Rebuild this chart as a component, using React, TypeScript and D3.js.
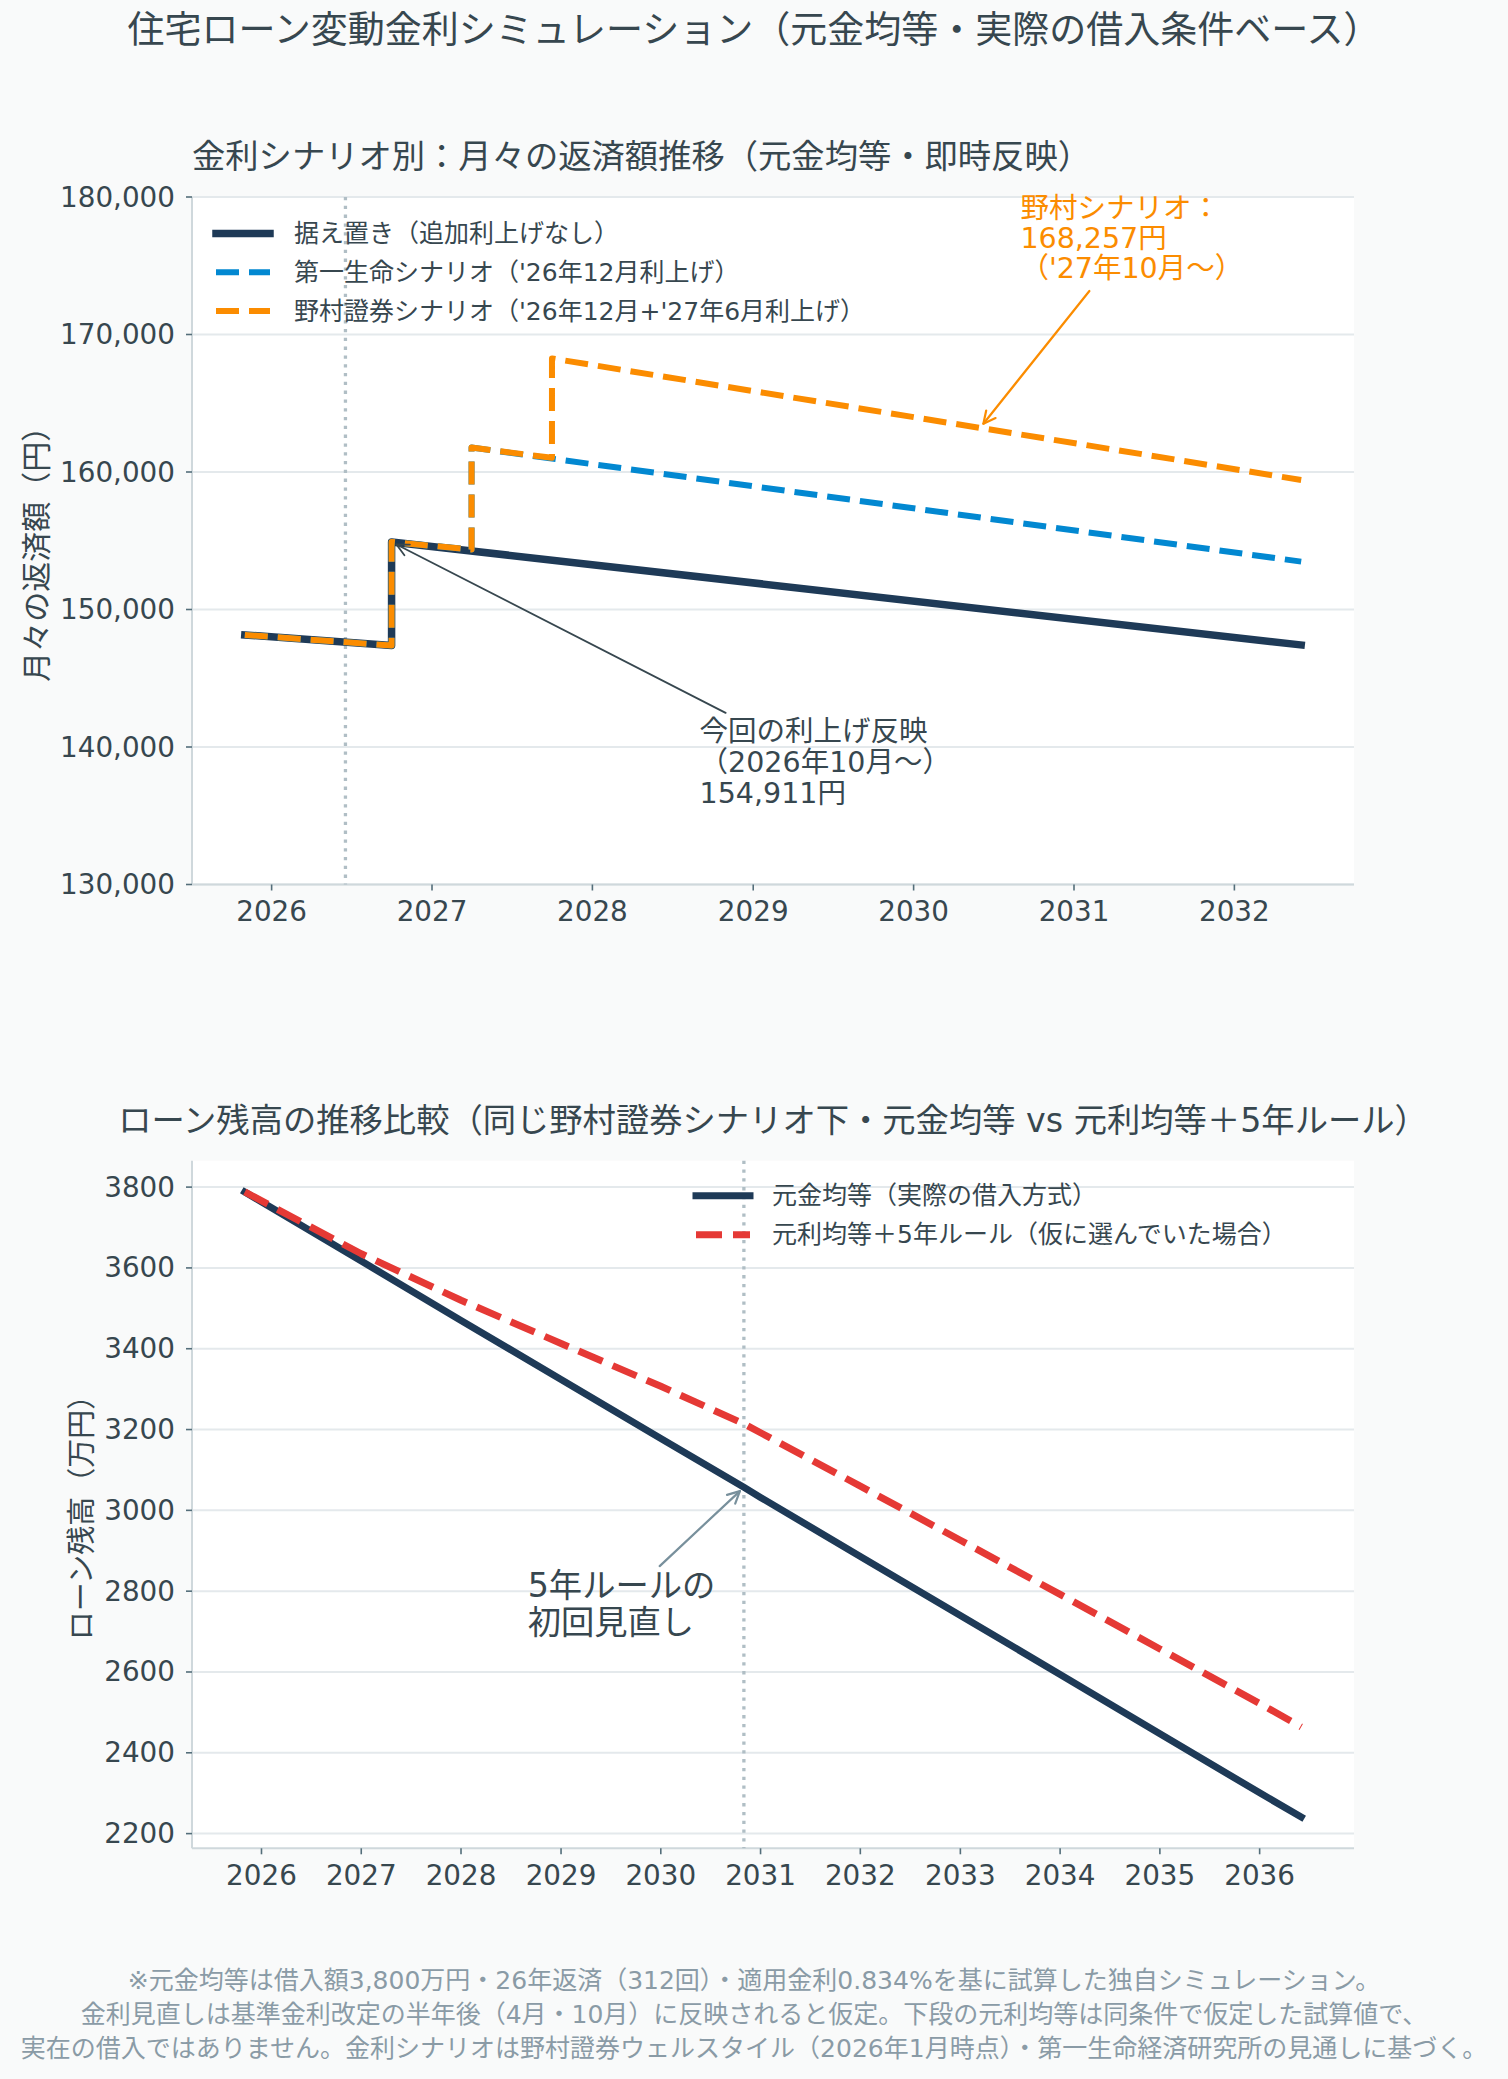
import { useEffect } from 'react'
import * as d3 from 'd3'

const W = 1508
const H = 2079
const FONT = "'DejaVu Sans', 'Noto Sans CJK JP', sans-serif"

// 上段：月々の返済額（円）— 折れ点（ジャンプは同じ月を二度）
const flatDates = ['2025-11', '2026-10', '2026-10', '2032-06']
const flatValues = [148150, 147380, 154911, 147420]
const daiichiDates = ['2025-11', '2026-10', '2026-10', '2027-04', '2027-04', '2032-06']
const daiichiValues = [148150, 147380, 154911, 154360, 161780, 153480]
const nomuraDates = ['2025-11', '2026-10', '2026-10', '2027-04', '2027-04', '2027-10', '2027-10', '2032-06']
const nomuraValues = [148150, 147380, 154911, 154360, 161780, 161030, 168257, 159420]
const payTicks = [130000, 140000, 150000, 160000, 170000, 180000]
const payYears = [2026, 2027, 2028, 2029, 2030, 2031, 2032]

// 下段：ローン残高（万円）
const balanceDates = ['2025-11', '2027-01', '2028-01', '2029-01', '2030-01', '2030-11', '2031-01',
  '2032-01', '2033-01', '2034-01', '2035-01', '2036-01', '2036-06']
const principalEqual = [3788, 3617, 3470, 3324, 3178, 3057, 3032, 2886, 2740, 2594, 2447, 2301, 2241]
const annuity5yr = [3788, 3635, 3520, 3413, 3307, 3214, 3192, 3060, 2926, 2792, 2657, 2522, 2464]
const balanceTicks = [2200, 2400, 2600, 2800, 3000, 3200, 3400, 3600, 3800]
const balanceYears = [2026, 2027, 2028, 2029, 2030, 2031, 2032, 2033, 2034, 2035, 2036]

const footnotes = [
  '※元金均等は借入額3,800万円・26年返済（312回）・適用金利0.834%を基に試算した独自シミュレーション。',
  '金利見直しは基準金利改定の半年後（4月・10月）に反映されると仮定。下段の元利均等は同条件で仮定した試算値で、',
  '実在の借入ではありません。金利シナリオは野村證券ウェルスタイル（2026年1月時点）・第一生命経済研究所の見通しに基づく。',
]

const C = {
  bg: '#f9fafa',
  text: '#37474f',
  grid: '#e4e9ec',
  spine: '#cfd8dc',
  navy: '#1e3a57',
  blue: '#0288d1',
  orange: '#fb8c00',
  red: '#e53935',
  vline: '#b0bec5',
  note: '#78909c',
  foot: '#8a9ba6',
}

const parse = d3.timeParse('%Y-%m')
const toPts = (ds: string[], vs: number[]) => ds.map((d, i) => [parse(d) as Date, vs[i]] as [Date, number])

// matplotlib 風の 5% マージン
const padDates = (dates: Date[]) => {
  const [a, b] = d3.extent(dates) as [Date, Date]
  const span = +b - +a
  return [new Date(+a - 0.05 * span), new Date(+b + 0.05 * span)]
}

function Arrow({ x1, y1, x2, y2, color, width }: any) {
  // x2,y2 = 注記対象の点。matplotlib の shrinkB 相当だけ手前で止める
  const dx = x2 - x1, dy = y2 - y1
  const len = Math.hypot(dx, dy)
  const ux = dx / len, uy = dy / len
  const tx = x2 - ux * 5.5, ty = y2 - uy * 5.5
  const hl = 12, hw = 6
  const p1 = [tx - ux * hl - uy * hw, ty - uy * hl + ux * hw]
  const p2 = [tx - ux * hl + uy * hw, ty - uy * hl - ux * hw]
  return (
    <g stroke={color} strokeWidth={width} fill="none" strokeLinecap="round" strokeLinejoin="round">
      <line x1={x1} y1={y1} x2={tx} y2={ty} />
      <polyline points={`${p1[0]},${p1[1]} ${tx},${ty} ${p2[0]},${p2[1]}`} />
    </g>
  )
}

function Axes({ box, x, y, yTicks, years, yFmt, ylabel, ylabelX, ylabelSize }: any) {
  return (
    <g>
      <rect x={box.x0} y={box.y0} width={box.x1 - box.x0} height={box.y1 - box.y0} fill="#ffffff" />
      {yTicks.map((t: number) => (
        <line key={t} x1={box.x0} x2={box.x1} y1={y(t)} y2={y(t)} stroke={C.grid} strokeWidth={2} />
      ))}
      <line x1={box.x0} x2={box.x0} y1={box.y0} y2={box.y1} stroke={C.spine} strokeWidth={2} />
      <line x1={box.x0} x2={box.x1} y1={box.y1} y2={box.y1} stroke={C.spine} strokeWidth={2} />
      {yTicks.map((t: number) => (
        <g key={t}>
          <line x1={box.x0 - 6} x2={box.x0} y1={y(t)} y2={y(t)} stroke="#546e7a" strokeWidth={1.6} />
          <text x={box.x0 - 17} y={y(t)} textAnchor="end" dominantBaseline="central" fontSize={27.8} fill={C.text}>
            {yFmt(t)}
          </text>
        </g>
      ))}
      {years.map((yr: number) => {
        const px = x(new Date(yr, 0, 1))
        return (
          <g key={yr}>
            <line x1={px} x2={px} y1={box.y1} y2={box.y1 + 6} stroke="#546e7a" strokeWidth={1.6} />
            <text x={px} y={box.y1 + 27} textAnchor="middle" dominantBaseline="central" fontSize={27.8} fill={C.text}>
              {yr}
            </text>
          </g>
        )
      })}
      <text
        transform={`translate(${ylabelX},${(box.y0 + box.y1) / 2 + 6}) rotate(-90)`}
        textAnchor="middle"
        dominantBaseline="central"
        fontSize={ylabelSize}
        fill={C.text}
      >
        {ylabel}
      </text>
    </g>
  )
}

function Note({ px, py, tx, ty, lines, color, textColor, size, lh, off, aw }: any) {
  return (
    <g>
      <Arrow x1={tx + off[0]} y1={ty + off[1]} x2={px} y2={py} color={color} width={aw} />
      {lines.map((l: string, i: number) => (
        <text key={i} x={tx} y={ty + i * lh} dominantBaseline="central" fontSize={size} fill={textColor}>
          {l}
        </text>
      ))}
    </g>
  )
}

export default function App() {
  useEffect(() => {
    document.body.style.margin = '0'
  }, [])

  // ---------- 上段 ----------
  const topBox = { x0: 192, x1: 1354, y0: 197, y1: 884.5 }
  const flat = toPts(flatDates, flatValues)
  const daiichi = toPts(daiichiDates, daiichiValues)
  const nomura = toPts(nomuraDates, nomuraValues)
  const xTop = d3
    .scaleTime()
    .domain(padDates([...flat, ...daiichi, ...nomura].map(d => d[0])))
    .range([topBox.x0, topBox.x1])
  const yTop = d3.scaleLinear().domain([130000, 180000]).range([topBox.y1, topBox.y0])
  const lineTop = d3
    .line<[Date, number]>()
    .x(d => xTop(d[0]))
    .y(d => yTop(d[1]))

  // ---------- 下段 ----------
  const botBox = { x0: 192, x1: 1354, y0: 1160.7, y1: 1848.3 }
  const pe = toPts(balanceDates, principalEqual)
  const an = toPts(balanceDates, annuity5yr)
  const xBot = d3.scaleTime().domain(padDates(pe.map(d => d[0]))).range([botBox.x0, botBox.x1])
  const [bMin, bMax] = d3.extent([...principalEqual, ...annuity5yr]) as [number, number]
  const bPad = (bMax - bMin) * 0.05
  const yBot = d3.scaleLinear().domain([bMin - bPad, bMax + bPad]).range([botBox.y1, botBox.y0])
  const lineBot = d3
    .line<[Date, number]>()
    .x(d => xBot(d[0]))
    .y(d => yBot(d[1]))

  const topVline = xTop(new Date(2026, 5, 18))
  const botVline = xBot(parse('2030-11') as Date)

  const legendTop = [
    { label: '据え置き（追加利上げなし）', color: C.navy, w: 7.5, dash: null },
    { label: "第一生命シナリオ（'26年12月利上げ）", color: C.blue, w: 6, dash: '23 10' },
    { label: "野村證券シナリオ（'26年12月+'27年6月利上げ）", color: C.orange, w: 6, dash: '23 10' },
  ]
  const legendBot = [
    { label: '元金均等（実際の借入方式）', color: C.navy, w: 7, dash: null },
    { label: '元利均等＋5年ルール（仮に選んでいた場合）', color: C.red, w: 7, dash: '26 11' },
  ]

  const nomuraNote = { d: parse('2030-06') as Date, v: 163200 }
  const nomuraText = { d: parse('2030-09') as Date, v: 179200 }
  const hikeNote = { d: parse('2026-10') as Date, v: 154911 }
  const hikeText = { d: parse('2028-09') as Date, v: 141100 }
  const ruleNote = { d: parse('2030-11') as Date, v: 3057 }
  const ruleText = { d: parse('2028-09') as Date, v: 2815 }

  return (
    <svg
      width={W}
      height={H}
      style={{ display: 'block', position: 'absolute', left: 0, top: 0, background: C.bg }}
      fontFamily={FONT}
    >
      <rect width={W} height={H} fill={C.bg} />
      <text x={754} y={30} textAnchor="middle" dominantBaseline="central" fontSize={37} fill={C.text}>
        住宅ローン変動金利シミュレーション（元金均等・実際の借入条件ベース）
      </text>

      {/* 上段 */}
      <text x={topBox.x0} y={156} dominantBaseline="central" fontSize={33.3} fill={C.text}>
        金利シナリオ別：月々の返済額推移（元金均等・即時反映）
      </text>
      <Axes
        box={topBox}
        x={xTop}
        y={yTop}
        yTicks={payTicks}
        years={payYears}
        yFmt={d3.format(',')}
        ylabel="月々の返済額（円）"
        ylabelX={36}
        ylabelSize={30}
      />
      <line x1={topVline} x2={topVline} y1={topBox.y0} y2={topBox.y1} stroke={C.vline} strokeWidth={3.3} strokeDasharray="3.3 5.5" />
      <path d={lineTop(flat) || ''} fill="none" stroke={C.navy} strokeWidth={7.5} strokeLinejoin="round" strokeLinecap="square" />
      <path d={lineTop(daiichi) || ''} fill="none" stroke={C.blue} strokeWidth={6} strokeDasharray="23 10" strokeLinejoin="round" />
      <path d={lineTop(nomura) || ''} fill="none" stroke={C.orange} strokeWidth={6} strokeDasharray="23 10" strokeLinejoin="round" />

      {legendTop.map((l, i) => {
        const ly = topBox.y0 + 36.5 + i * 38.8
        return (
          <g key={l.label}>
            <line x1={216} x2={270} y1={ly} y2={ly} stroke={l.color} strokeWidth={l.w}
              strokeDasharray={l.dash || undefined} strokeLinecap={l.dash ? 'butt' : 'square'} />
            <text x={294} y={ly} dominantBaseline="central" fontSize={25} fill={C.text}>{l.label}</text>
          </g>
        )
      })}

      <Note
        px={xTop(hikeNote.d)} py={yTop(hikeNote.v)}
        tx={xTop(hikeText.d)} ty={yTop(hikeText.v)}
        lines={['今回の利上げ反映', '（2026年10月〜）', '154,911円']}
        color="#37474f" textColor={C.text} size={28.5} lh={30.8} off={[26, -19]} aw={1.8}
      />
      <Note
        px={xTop(nomuraNote.d)} py={yTop(nomuraNote.v)}
        tx={xTop(nomuraText.d)} ty={yTop(nomuraText.v)}
        lines={['野村シナリオ：', '168,257円', "（'27年10月〜）"]}
        color={C.orange} textColor={C.orange} size={28.5} lh={30} off={[69, 83]} aw={2.2}
      />

      {/* 下段 */}
      <text x={(botBox.x0 + botBox.x1) / 2} y={1120} textAnchor="middle" dominantBaseline="central" fontSize={33.3} fill={C.text}>
        ローン残高の推移比較（同じ野村證券シナリオ下・元金均等 vs 元利均等＋5年ルール）
      </text>
      <Axes
        box={botBox}
        x={xBot}
        y={yBot}
        yTicks={balanceTicks}
        years={balanceYears}
        yFmt={(v: number) => String(v)}
        ylabel="ローン残高（万円）"
        ylabelX={82}
        ylabelSize={29}
      />
      <line x1={botVline} x2={botVline} y1={botBox.y0} y2={botBox.y1} stroke={C.vline} strokeWidth={3.3} strokeDasharray="3.3 5.5" />
      <path d={lineBot(pe) || ''} fill="none" stroke={C.navy} strokeWidth={7} strokeLinejoin="round" strokeLinecap="square" />
      <path d={lineBot(an) || ''} fill="none" stroke={C.red} strokeWidth={7} strokeDasharray="26 11" strokeLinejoin="round" />

      {legendBot.map((l, i) => {
        const ly = botBox.y0 + 35 + i * 39
        return (
          <g key={l.label}>
            <line x1={696} x2={750} y1={ly} y2={ly} stroke={l.color} strokeWidth={l.w}
              strokeDasharray={l.dash || undefined} strokeLinecap={l.dash ? 'butt' : 'square'} />
            <text x={772} y={ly} dominantBaseline="central" fontSize={25} fill={C.text}>{l.label}</text>
          </g>
        )
      })}

      <Note
        px={xBot(ruleNote.d)} py={yBot(ruleNote.v)}
        tx={xBot(ruleText.d)} ty={yBot(ruleText.v)}
        lines={['5年ルールの', '初回見直し']}
        color={C.note} textColor={C.text} size={33.3} lh={37} off={[132, -19]} aw={2.2}
      />

      {footnotes.map((f, i) => (
        <text key={i} x={754} y={1980 + i * 34} textAnchor="middle" dominantBaseline="central" fontSize={25} fill={C.foot}>
          {f}
        </text>
      ))}
    </svg>
  )
}
